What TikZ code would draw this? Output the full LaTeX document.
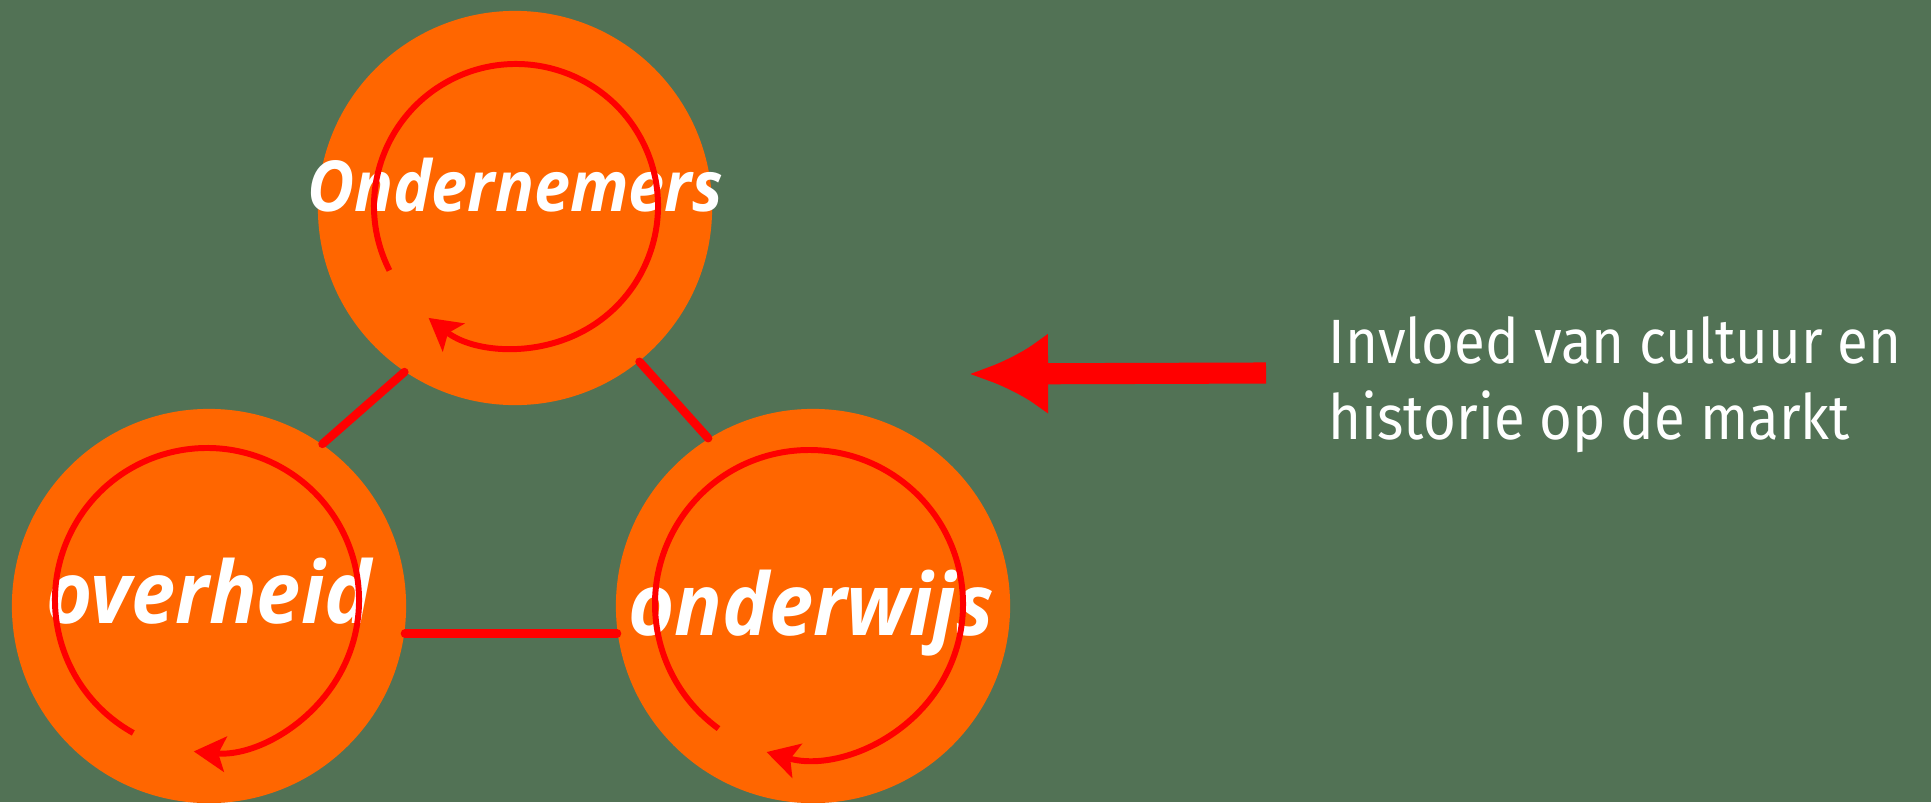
\documentclass[tikz,border=0pt]{standalone}
\usepackage{fontspec}
\setmainfont{Open Sans}
\newfontfamily\naamfont{Open Sans}[FakeStretch=0.92]
\newfontfamily\rechtsfont{Fira Sans}[FakeStretch=0.9]
\usetikzlibrary{arrows.meta}
\definecolor{achtergrond}{HTML}{527255}
\definecolor{oranje}{HTML}{FF6600}
\definecolor{rood}{HTML}{FF0000}

\begin{document}
\begin{tikzpicture}[x=0.01cm,y=0.01cm,>=Stealth,
kring/.style={circle, fill=oranje, minimum size=3.94cm, inner sep=0pt},
naam/.style={text=white, anchor=base, inner sep=0pt},
lijn/.style={draw=rood, line width=2.4pt, line cap=round},
rond/.style={draw=rood, line width=1.7pt, -{Stealth[length=9pt,width=10pt,inset=2pt]}},
pijl/.style={draw=rood, line width=6pt, -{Latex[length=0.79cm,width=0.82cm]}}]
\fill[achtergrond] (0,0) rectangle (1931,802);
\useasboundingbox (0,0) rectangle (1931,802);

\node[kring] (boven) at (515,594) {};
\node[kring] (links) at (209,196) {};
\node[kring] (rechts) at (813,196) {};

\draw[lijn] (boven.236) -- (links.55);
\draw[lijn] (boven.-51) -- (rechts.122);
\draw[lijn] (links.-8) -- (rechts.188);

\node[naam, font=\naamfont\bfseries\itshape\fontsize{20}{24}\selectfont] (tBoven) at (515,591) {Ondernemers};
\node[naam, font=\naamfont\bfseries\itshape\fontsize{24.5}{30}\selectfont] (tLinks) at (209,179) {overheid};
\node[naam, font=\naamfont\bfseries\itshape\fontsize{24.5}{30}\selectfont] (tRechts) at (811,167) {onderwijs};

\draw[rond] ([shift={(1,2)},shift={(207:142)}]boven.center) arc[start angle=207, end angle=-128, radius=142];
\draw[rond] ([shift={(-2,6)},shift={(241:152)}]links.center) arc[start angle=241, end angle=-95, radius=152];
\draw[rond] ([shift={(-4,2)},shift={(234:154)}]rechts.center) arc[start angle=234, end angle=-106, radius=154];

\coordinate (staart) at (1266,429);
\coordinate (punt) at (969,428);
\draw[pijl] (staart) -- (punt);

\node[anchor=base west, align=left, text=white, inner sep=0pt,
font=\rechtsfont\fontsize{17.8}{21.6}\selectfont] (tekst) at (1328,363)
{Invloed van cultuur en\\historie op de markt};
\end{tikzpicture}
\end{document}
